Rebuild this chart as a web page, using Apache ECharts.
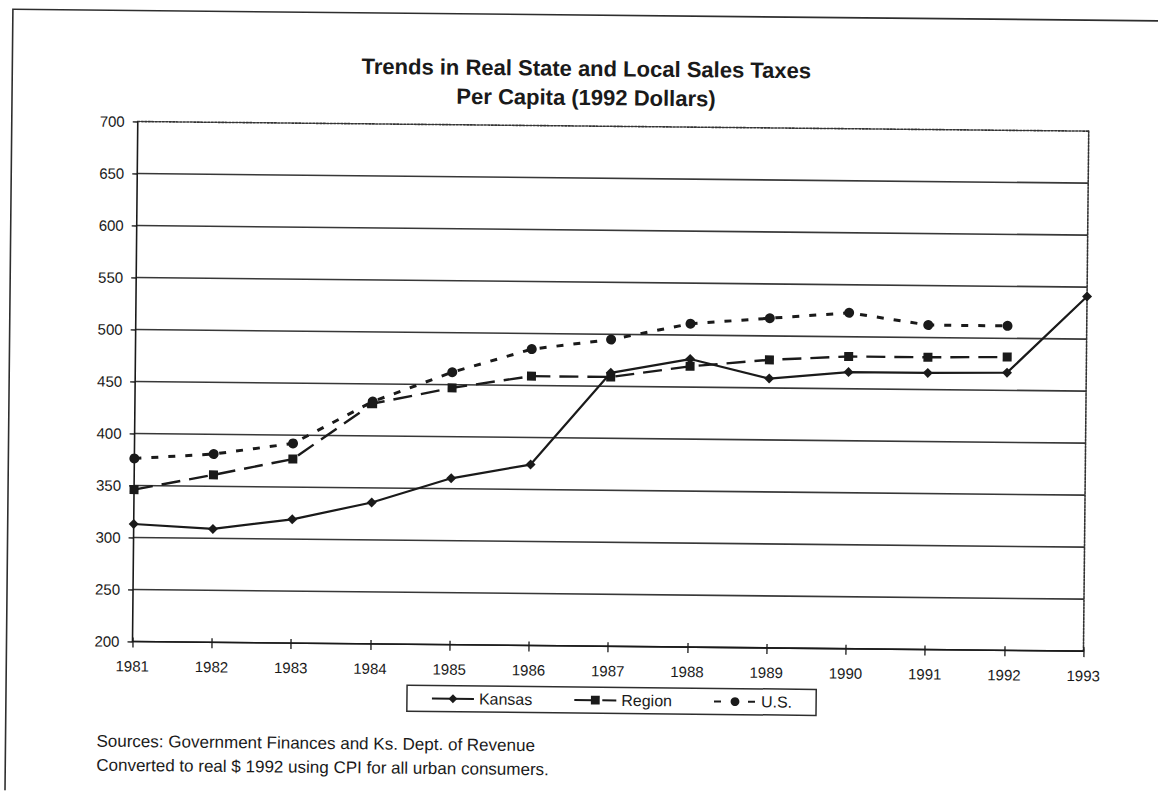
<!DOCTYPE html>
<html>
<head>
<meta charset="utf-8">
<title>Trends in Real State and Local Sales Taxes</title>
<script src="https://cdn.jsdelivr.net/npm/echarts@6/dist/echarts.min.js"></script>
<style>
  html, body { margin: 0; padding: 0; background: #fff; overflow: hidden; }
  /* the printed sheet sits a little askew */
  #chart { width: 1158px; height: 796px; transform: rotate(0.58deg); transform-origin: 50% 50%; }
</style>
</head>
<body>
<div id="chart"></div>
<script>
// Years on the horizontal axis
const years = ['1981', '1982', '1983', '1984', '1985', '1986', '1987',
               '1988', '1989', '1990', '1991', '1992', '1993'];

// Real per-capita sales taxes, 1992 dollars
const kansas = [313, 309, 319, 336, 360, 374, 463, 477, 459, 466, 466, 467, 541];
const region = [346, 361, 377, 431, 447, 459, 459, 470, 477, 481, 481, 482];
const us     = [376, 381, 392, 433, 462, 485, 495, 511, 517, 523, 512, 512];

// Value axis range and step
const yMin = 200;
const yMax = 700;
const yStep = 50;

const titleLines = ['Trends in Real State and Local Sales Taxes', 'Per Capita (1992 Dollars)'];
const sourceLines = ['Sources: Government Finances and Ks. Dept. of Revenue',
                     'Converted to real $ 1992 using CPI for all urban consumers.'];

const FONT = "'Liberation Sans', Arial, Helvetica, sans-serif";
const INK = '#1a1a1a';

// one colour per horizontal rule; the top rule is left to the dotted frame
const ruleCount = (yMax - yMin) / yStep + 1;
const ruleColors = [];
for (let i = 0; i < ruleCount; i++) ruleColors.push(i === ruleCount - 1 ? 'rgba(0,0,0,0)' : '#383838');

const chart = echarts.init(document.getElementById('chart'), null, { renderer: 'svg' });

chart.setOption({
  animation: false,
  backgroundColor: '#fff',
  textStyle: { fontFamily: FONT, color: INK },
  graphic: [
    {
      type: 'rect',
      shape: { x: 9, y: 15, width: 1165, height: 783 },
      style: { fill: 'none', stroke: '#2e2e2e', lineWidth: 1.6 },
      silent: true
    },
    {
      type: 'text',
      x: 583, y: 54,
      style: {
        text: titleLines.join('\n'),
        fontFamily: FONT, fontSize: 22, fontWeight: 'bold',
        lineHeight: 29, align: 'center', verticalAlign: 'top', fill: INK
      }
    },
    {
      type: 'text',
      x: 100, y: 734,
      style: {
        text: sourceLines.join('\n'),
        fontFamily: FONT, fontSize: 17,
        lineHeight: 24, align: 'left', verticalAlign: 'top', fill: INK
      }
    }
  ],
  legend: {
    left: 410, top: 687,
    orient: 'horizontal',
    padding: [5, 24],
    itemWidth: 42, itemHeight: 11, itemGap: 41,
    borderColor: '#2e2e2e', borderWidth: 1.5, borderRadius: 0,
    textStyle: { fontFamily: FONT, fontSize: 16, color: INK },
    data: ['Kansas', 'Region', 'U.S.']
  },
  grid: { left: 135, right: 72, top: 126, bottom: 150, containLabel: false },
  xAxis: [
    {
      type: 'category', data: years, boundaryGap: false, position: 'bottom',
      axisLine: { onZero: false, lineStyle: { color: INK, width: 1.6 } },
      axisTick: { show: true, inside: false, length: 6, lineStyle: { color: INK, width: 1.3 } },
      axisLabel: { fontFamily: FONT, fontSize: 15, color: INK, margin: 17 },
      splitLine: { show: false }
    },
    {
      // short upward ticks so each year mark crosses the axis
      type: 'category', data: years, boundaryGap: false, position: 'bottom',
      axisLine: { show: false, onZero: false },
      axisTick: { show: true, inside: true, length: 4, lineStyle: { color: INK, width: 1.3 } },
      axisLabel: { show: false },
      splitLine: { show: false }
    },
    {
      // dotted top edge of the plot frame
      type: 'category', data: years, boundaryGap: false, position: 'top',
      axisLine: { show: true, onZero: false, lineStyle: { color: '#333', width: 1.6, type: [2, 1.5] } },
      axisTick: { show: false },
      axisLabel: { show: false },
      splitLine: { show: false }
    }
  ],
  yAxis: [
    {
      type: 'value', min: yMin, max: yMax, interval: yStep, position: 'left',
      axisLine: { show: true, onZero: false, lineStyle: { color: INK, width: 1.6 } },
      axisTick: { show: true, inside: false, length: 5, lineStyle: { color: INK, width: 1.3 } },
      axisLabel: { fontFamily: FONT, fontSize: 15, color: INK, margin: 13 },
      splitLine: { show: true, lineStyle: { color: ruleColors, width: 1.6 } }
    },
    {
      // dotted right edge of the plot frame
      type: 'value', min: yMin, max: yMax, interval: yStep, position: 'right',
      axisLine: { show: true, onZero: false, lineStyle: { color: '#333', width: 1.6, type: [2, 1.5] } },
      axisTick: { show: false },
      axisLabel: { show: false },
      splitLine: { show: false }
    }
  ],
  series: [
    {
      name: 'Kansas', type: 'line', data: kansas,
      xAxisIndex: 0, yAxisIndex: 0,
      symbol: 'diamond', symbolSize: 10, showSymbol: true,
      lineStyle: { color: INK, width: 2.2, type: 'solid' },
      itemStyle: { color: INK },
      z: 4
    },
    {
      name: 'Region', type: 'line', data: region,
      xAxisIndex: 0, yAxisIndex: 0,
      symbol: 'rect', symbolSize: 9, showSymbol: true,
      lineStyle: { color: INK, width: 2.4, type: [19, 9] },
      itemStyle: { color: INK },
      z: 3
    },
    {
      name: 'U.S.', type: 'line', data: us,
      xAxisIndex: 0, yAxisIndex: 0,
      symbol: 'circle', symbolSize: 10, showSymbol: true,
      lineStyle: { color: INK, width: 3, type: [7, 10] },
      itemStyle: { color: INK },
      z: 2
    }
  ]
});
</script>
</body>
</html>
